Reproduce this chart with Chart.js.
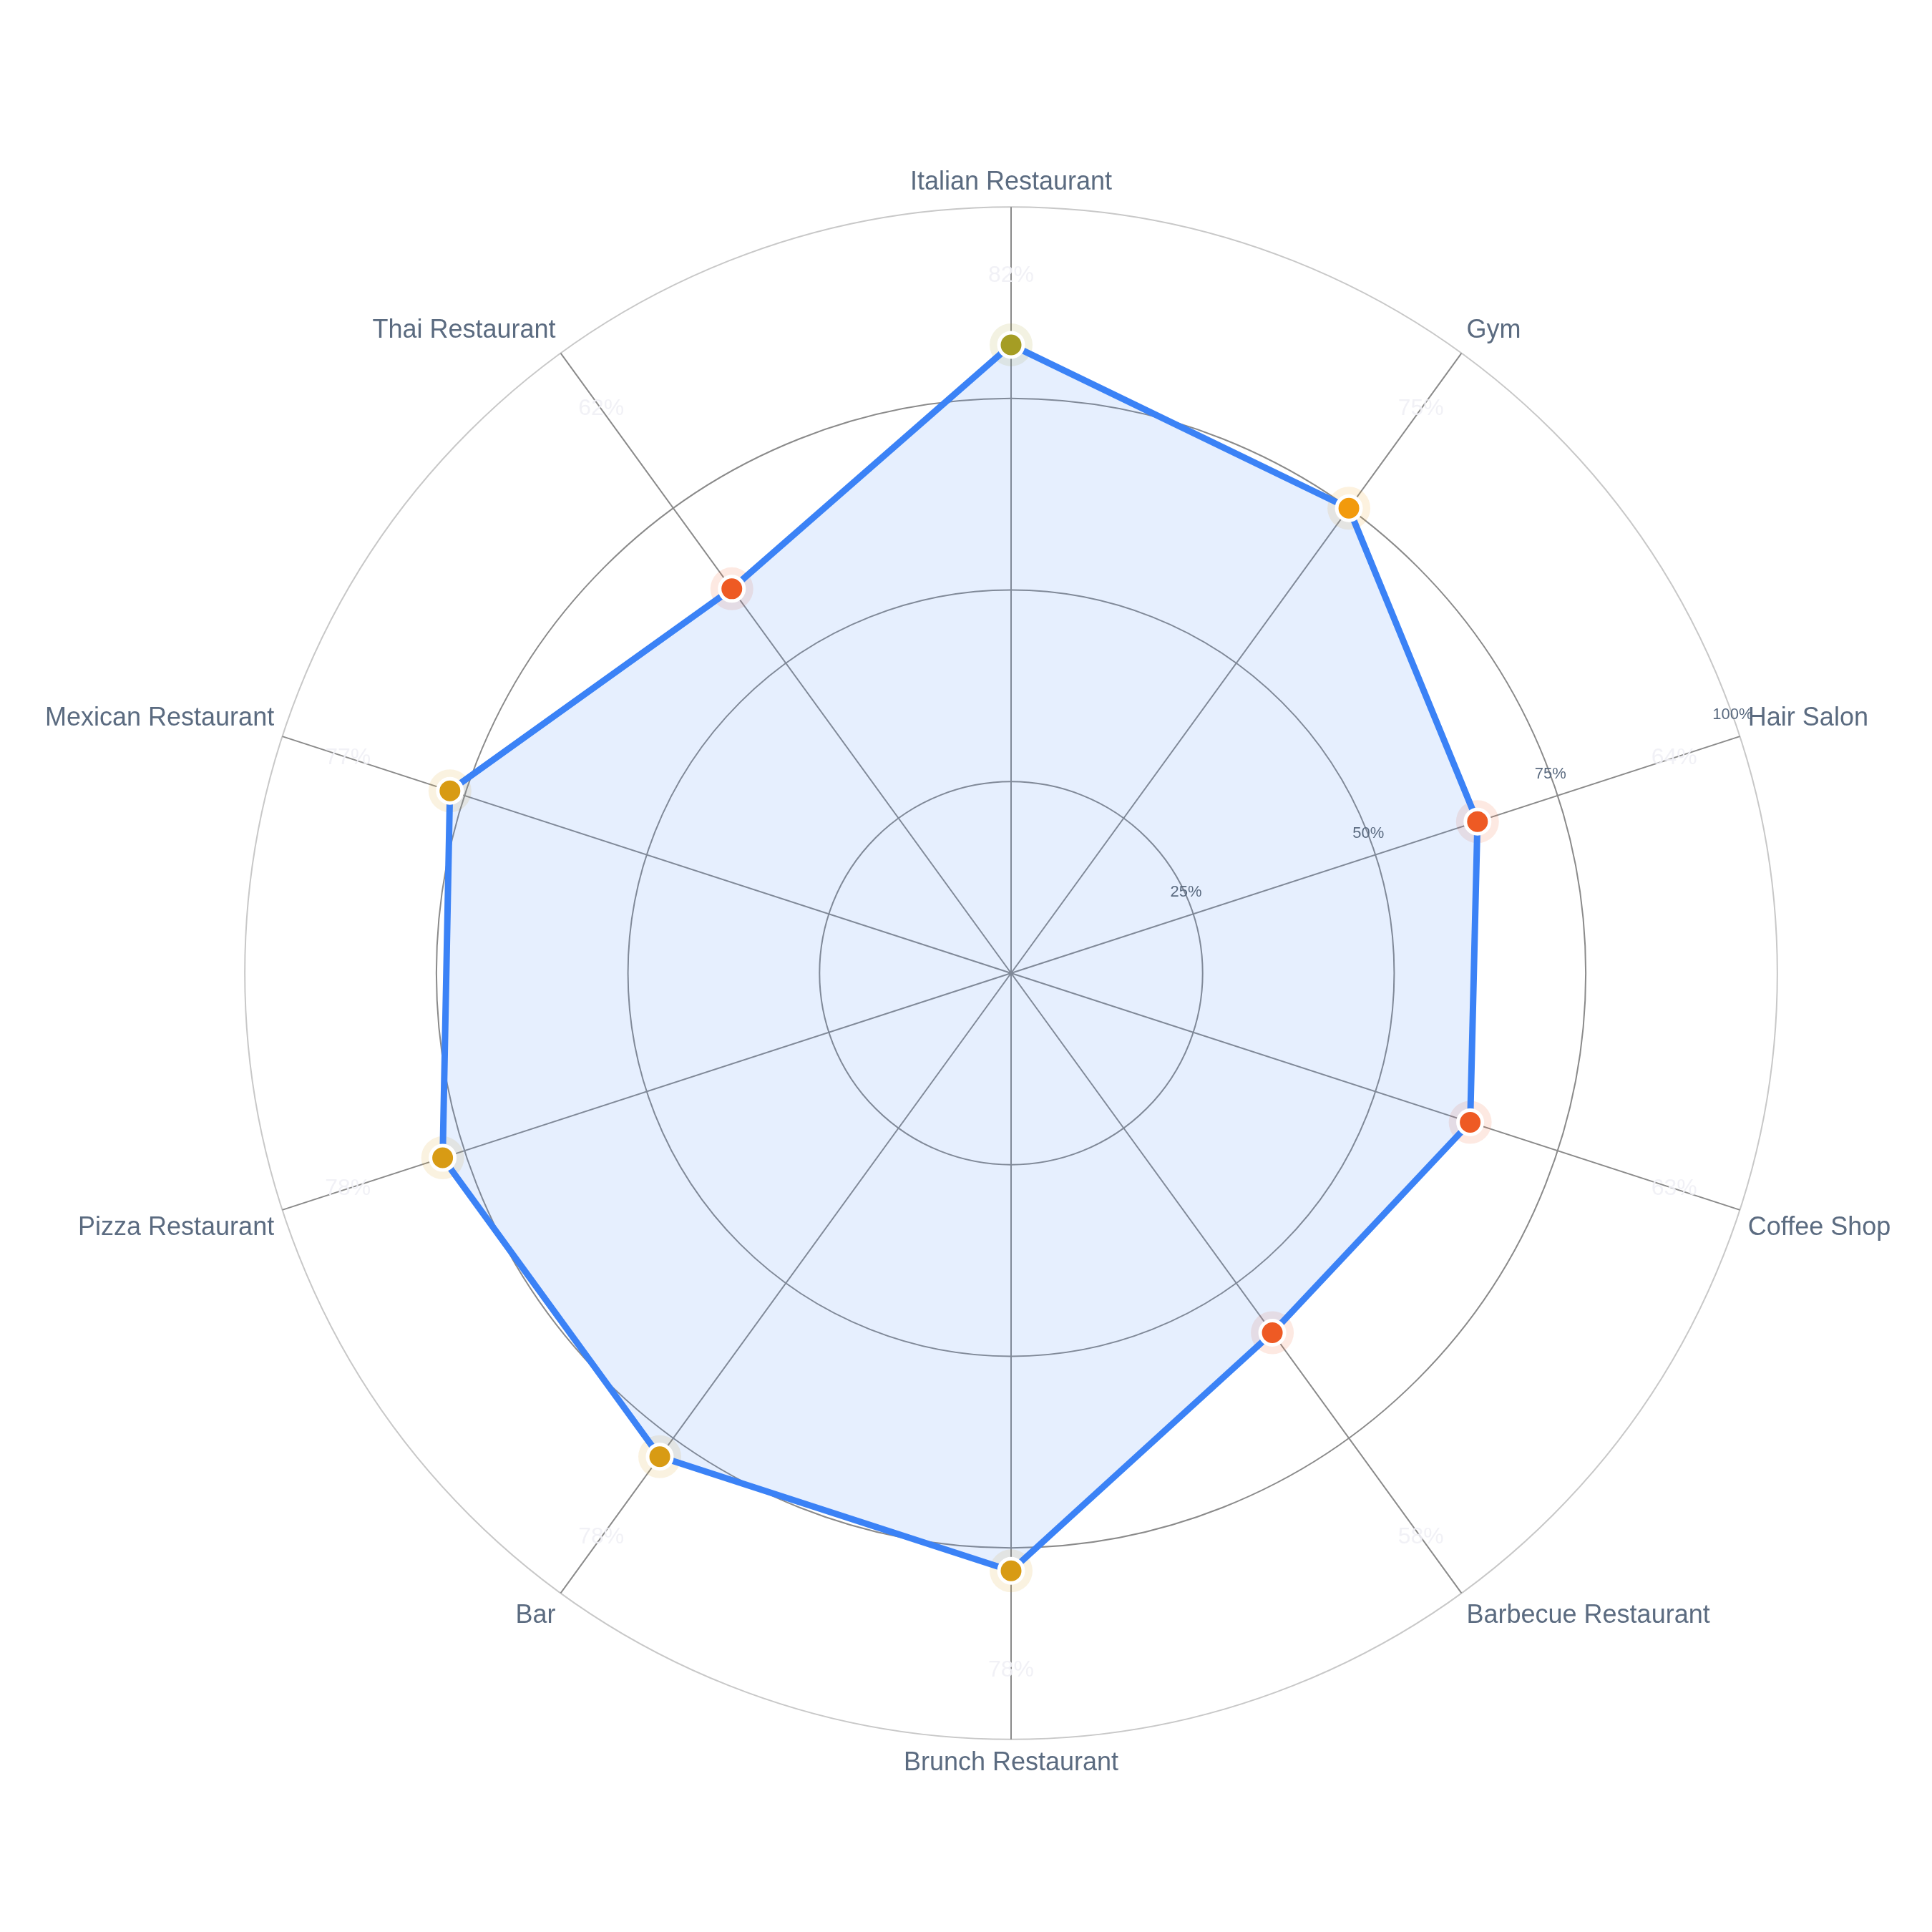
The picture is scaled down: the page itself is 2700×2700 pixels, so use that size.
<!DOCTYPE html>
<html><head><meta charset="utf-8">
<script src="https://cdn.jsdelivr.net/npm/chart.js@4"></script>
<style>html,body{margin:0;background:#fff}</style></head>
<body><canvas id="c" width="2700" height="2700"></canvas>
<script>
const categories = ["Italian Restaurant","Thai Restaurant","Mexican Restaurant","Pizza Restaurant","Bar","Brunch Restaurant","Barbecue Restaurant","Coffee Shop","Hair Salon","Gym"];
const values = [82,62,77,78,78,78,58,63,64,75];
const pointColors = ["#a59d24","#ee5a24","#d89b14","#d89b14","#d89b14","#d89b14","#ee5a24","#ee5a24","#ee5a24","#f29a0c"];
const tickLabels = ["25%","50%","75%","100%"];
const tickValues = [25,50,75,100];

// Chart.js runs clockwise; the reference runs counter-clockwise from the right.
const order = [0,9,8,7,6,5,4,3,2,1];
const L = order.map(i=>categories[i]);
const V = order.map(i=>values[i]);
const C = order.map(i=>pointColors[i]);

const extras = {
  id:'extras',
  afterDatasetsDraw(chart){
    const s = chart.scales.r, ctx = chart.ctx;
    ctx.save();
    ctx.font = '22px "Liberation Sans", Arial';
    ctx.fillStyle = '#5b6b80';
    ctx.textAlign='center'; ctx.textBaseline='middle';
    const ang = -Math.PI/10;
    tickValues.forEach((v,i)=>{
      const d = s.getDistanceFromCenterForValue(v);
      ctx.fillText(tickLabels[i], s.xCenter + Math.cos(ang)*d - 10, s.yCenter + Math.sin(ang)*d - 30);
    });
    ctx.font = '32px "Liberation Sans", Arial';
    ctx.fillStyle = 'rgba(240,240,245,0.9)';
    V.forEach((v,i)=>{
      const p = s.getPointPosition(i, s.getDistanceFromCenterForValue(91));
      ctx.fillText(v+'%', p.x, p.y);
    });
    ctx.restore();
  }
};

new Chart(document.getElementById('c'), {
  type:'radar',
  data:{labels:L, datasets:[
    {data:V, borderColor:'#3b82f6', borderWidth:9, backgroundColor:'rgba(59,130,246,0.13)', fill:true,
     pointBackgroundColor:C, pointBorderColor:'#ffffff', pointBorderWidth:5, pointRadius:17, order:1},
    {data:V, showLine:false, fill:false, borderWidth:0, pointBorderWidth:0,
     pointBackgroundColor:C.map(c=>c+'22'), pointRadius:30, order:2}
  ]},
  options:{
    responsive:false, animation:false,
    layout:{padding:{top:20,bottom:0,left:0,right:0}},
    plugins:{legend:{display:false}, tooltip:{enabled:false}},
    scales:{r:{min:0,max:100,
      ticks:{display:false, stepSize:25},
      grid:{circular:true, color:ctx=>(ctx.tick && ctx.tick.value===100)?'#c8c8c8':'#8a8a8a', lineWidth:2},
      angleLines:{color:'#8a8a8a', lineWidth:2},
      pointLabels:{font:{size:36, family:'"Liberation Sans", Arial'}, color:'#5b6b80', padding:12}
    }},
    startAngle:90
  },
  plugins:[extras]
});
</script></body></html>
